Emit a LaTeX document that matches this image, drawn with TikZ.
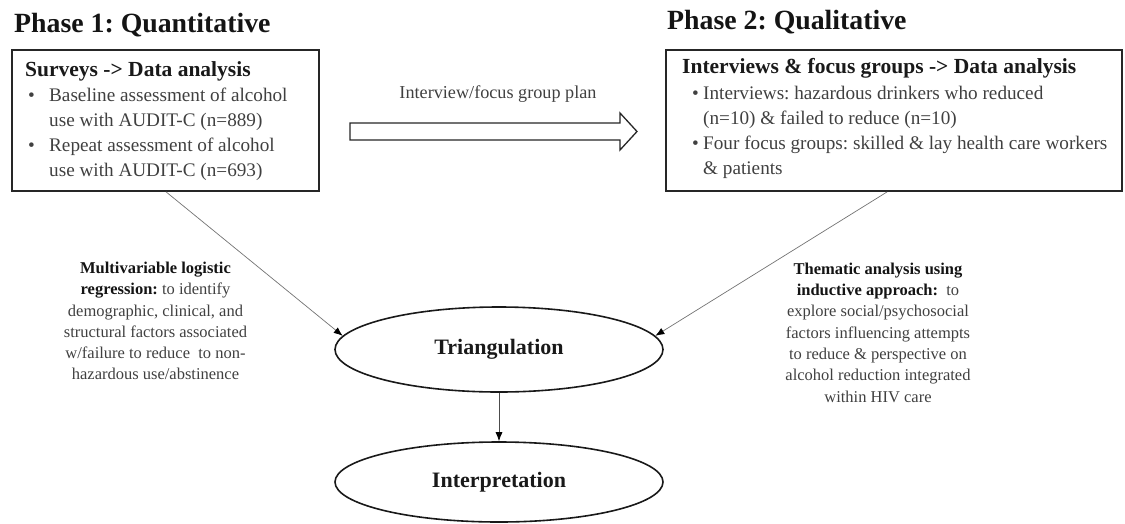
\documentclass[tikz,border=0pt]{standalone}
\usepackage{fontspec}
\setmainfont{Liberation Serif}
\usetikzlibrary{arrows.meta,shapes.geometric}
\frenchspacing
\begin{document}
\begin{tikzpicture}[x=1pt,y=-1pt,
  titletxt/.style={font=\fontsize{27.8}{30}\selectfont\bfseries, text=black!92, anchor=base west, inner sep=0},
  headtxt/.style={font=\fontsize{21.5}{25}\selectfont\bfseries, text=black!90, anchor=base west, inner sep=0},
  bodytxt/.style={font=\fontsize{19.2}{25.3}\selectfont, text=black!75, anchor=base west, inner sep=0},
  lbltxt/.style={font=\fontsize{16.5}{21.3}\selectfont, align=center, inner sep=0, text=black!75},
  plantxt/.style={font=\fontsize{18.2}{20}\selectfont, text=black!75, inner sep=0},
  boxstyle/.style={draw=black!85, line width=1.8pt, rectangle, inner sep=0},
  ovalstyle/.style={ellipse, draw=black!90, line width=1.6pt, minimum width=328pt, inner sep=0, font=\fontsize{22}{24}\selectfont\bfseries, text=black!90},
  conn/.style={draw=black!55, line width=0.7pt, -{Latex[length=9pt,width=7pt,color=black]}},
  conndown/.style={draw=black!70, line width=0.8pt, -{Latex[length=9pt,width=7pt,color=black]}},
  blockarrow/.style={draw=black!85, line width=1.3pt, fill=white, line join=miter}
]
\useasboundingbox (0,0) rectangle (1125,523);

% titles
\node[titletxt] (t1) at (14,32) {Phase 1: Quantitative};
\node[titletxt] (t2) at (667,29) {Phase 2: Qualitative};

% boxes
\node[boxstyle, minimum width=307pt, minimum height=141pt] (box1) at (165.5,120.5) {};
\node[boxstyle, minimum width=456pt, minimum height=141pt] (box2) at (894,120.5) {};

% box 1 text
\node[headtxt] (h1) at (25,76) {Surveys -> Data analysis};
\node[bodytxt] (b1) at (28,101) {\begin{tabular}[t]{@{}l@{}l@{}}
\makebox[21pt][l]{\textbullet} & Baseline assessment of alcohol\\
 & use with AUDIT-C (n=889)\\
\textbullet & Repeat assessment of alcohol\\
 & use with AUDIT-C (n=693)
\end{tabular}};

% box 2 text
\node[headtxt] (h2) at (682,73) {Interviews \& focus groups -> Data analysis};
\node[bodytxt] (b2) at (692,99) {\begin{tabular}[t]{@{}l@{}l@{}}
\makebox[11pt][l]{\textbullet} & Interviews: hazardous drinkers who reduced\\
 & (n=10) \& failed to reduce (n=10)\\
\textbullet & Four focus groups: skilled \& lay health care workers\\
 & \& patients
\end{tabular}};

% block arrow
\node[plantxt] (plan) at (498,94) {Interview/focus group plan};
\draw[blockarrow] (350,123) -- (620,123) -- (620,113) -- (637,131.5) -- (620,150) -- (620,140) -- (350,140) -- cycle;

% ovals
\node[ovalstyle, minimum height=85pt] (tri) at (499,349.5) {Triangulation};
\node[ovalstyle, minimum height=80pt] (interp) at (499,482) {Interpretation};

% connectors
\coordinate (o1) at ([xshift=155pt]box1.south west);
\coordinate (o2) at ([xshift=222pt]box2.south west);
\draw[conn] (o1) -- (tri.175);
\draw[conn] (o2) -- (tri.5);
\draw[conndown] (tri) -- (interp);

% labels
\node[lbltxt] (l1) at (155.5,321) {\textbf{\color{black!92}Multivariable logistic}\\
\textbf{\color{black!92}regression:} to identify\\
demographic, clinical, and\\
structural factors associated\\
w/failure to reduce\ \ to non-\\
hazardous use/abstinence};
\node[lbltxt] (l2) at (878,332.5) {\textbf{\color{black!92}Thematic analysis using}\\
\textbf{\color{black!92}inductive approach:}\ \ to\\
explore social/psychosocial\\
factors influencing attempts\\
to reduce \& perspective on\\
alcohol reduction integrated\\
within HIV care};
\end{tikzpicture}
\end{document}
